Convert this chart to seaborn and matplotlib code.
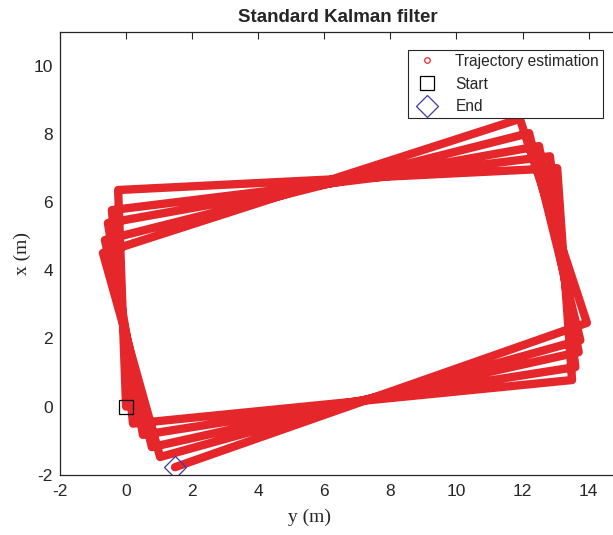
import matplotlib
matplotlib.use("Agg")
import matplotlib.pyplot as plt
from matplotlib.lines import Line2D
import seaborn as sns
import pandas as pd

# Trajectory corner estimates (x axis = y (m), y axis = x (m))
traj_y = [0.00, -0.24, 13.05, 13.50, 0.21,
          -0.43, 12.83, 13.60, 0.51,
          -0.55, 12.50, 13.70, 0.78,
          -0.64, 12.20, 13.75, 1.03,
          -0.70, 11.92, 13.95, 1.48]
traj_x = [0.00, 6.36, 7.00, 0.78, -0.50,
          5.77, 7.35, 1.16, -0.83,
          5.39, 7.65, 1.60, -1.19,
          4.89, 8.03, 1.95, -1.48,
          4.51, 8.45, 2.46, -1.78]
start_pt = (0.0, 0.0)
end_pt = (1.48, -1.78)
xticks = list(range(-2, 15, 2))
yticks = list(range(-2, 11, 2))

sns.set_theme(style="white")
plt.rcParams["font.family"] = ["Liberation Sans", "DejaVu Sans"]
plt.rcParams["axes.unicode_minus"] = False

RED = "#E5262B"
AXC = "#262626"

fig = plt.figure(figsize=(6.13, 5.35), dpi=100)
ax = fig.add_axes([60/613, (535-474.7)/535, (615-60)/613, 442.7/535])

df = pd.DataFrame({"y": traj_y, "x": traj_x, "order": range(len(traj_x))})
sns.lineplot(data=df, x="y", y="x", sort=False, estimator=None, ax=ax,
             color=RED, linewidth=6.0, solid_joinstyle="round",
             solid_capstyle="round")

ax.plot([start_pt[0]], [start_pt[1]], marker="s", ms=9.5, mfc="none",
        mec="black", mew=0.9, ls="none")
ax.plot([end_pt[0]], [end_pt[1]], marker="D", ms=11, mfc="none",
        mec="#3A3AA8", mew=0.9, ls="none")

ax.set_xlim(-2, 14.80)
ax.set_ylim(-2, 11)
ax.set_xticks(xticks)
ax.set_yticks(yticks)
ax.tick_params(direction="in", top=True, right=False, length=5, width=0.8,
               colors=AXC, labelsize=12.5)
ax.tick_params(axis="x", pad=7)
ax.tick_params(axis="y", pad=5)
for s in ax.spines.values():
    s.set_color(AXC)
    s.set_linewidth(0.9)
ax.spines["right"].set_visible(False)

ax.set_xlabel("y (m)", family="Liberation Serif", fontsize=14, color=AXC)
ax.xaxis.set_label_coords((310-60)/555, -(509-474.7)/442.7)
ax.set_ylabel("x (m)", family="Liberation Serif", fontsize=14, color=AXC, labelpad=2)
ax.set_title("Standard Kalman filter", fontweight="bold", fontsize=13.5, color=AXC, pad=7)

handles = [
    Line2D([], [], marker="o", ms=4, mfc="none", mec=RED, mew=0.9, ls="none"),
    Line2D([], [], marker="s", ms=9.5, mfc="none", mec="black", mew=0.9, ls="none"),
    Line2D([], [], marker="D", ms=11, mfc="none", mec="#3A3AA8", mew=0.9, ls="none"),
]
labels = ["Trajectory estimation", "Start", "End"]
leg = ax.legend(handles, labels, loc="upper right",
                bbox_to_anchor=(603/613, 1-50/535), bbox_transform=fig.transFigure,
                fontsize=11.2, frameon=True, fancybox=False, framealpha=1,
                borderpad=0.25, labelspacing=0.5, handletextpad=0.8,
                handlelength=2.0, borderaxespad=0)
leg.get_frame().set_edgecolor(AXC)
leg.get_frame().set_linewidth(0.8)

fig.savefig("out.png", dpi=100)
